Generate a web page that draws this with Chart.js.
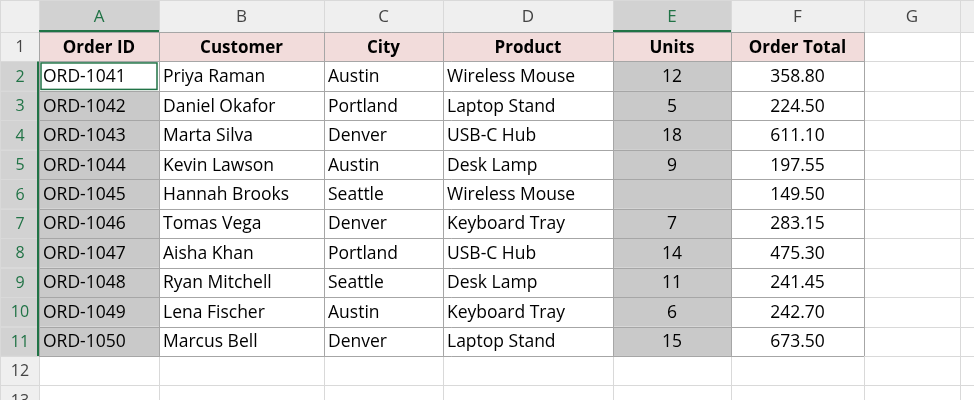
<!DOCTYPE html>
<html><head><meta charset="utf-8">
<script src="https://cdn.jsdelivr.net/npm/chart.js@4"></script>
<style>html,body{margin:0;padding:0;background:#fff}canvas{display:block}</style>
</head><body>
<canvas id="c" width="974" height="400"></canvas>
<script>
const columnLetters = ["A","B","C","D","E","F","G"];
const headers = ["Order ID","Customer","City","Product","Units","Order Total"];
const orderIds = ["ORD-1041","ORD-1042","ORD-1043","ORD-1044","ORD-1045","ORD-1046","ORD-1047","ORD-1048","ORD-1049","ORD-1050"];
const customers = ["Priya Raman","Daniel Okafor","Marta Silva","Kevin Lawson","Hannah Brooks","Tomas Vega","Aisha Khan","Ryan Mitchell","Lena Fischer","Marcus Bell"];
const cities = ["Austin","Portland","Denver","Austin","Seattle","Denver","Portland","Seattle","Austin","Denver"];
const products = ["Wireless Mouse","Laptop Stand","USB-C Hub","Desk Lamp","Wireless Mouse","Keyboard Tray","USB-C Hub","Desk Lamp","Keyboard Tray","Laptop Stand"];
const units = [12,5,18,9,null,7,14,11,6,15];
const orderTotals = [358.80,224.50,611.10,197.55,149.50,283.15,475.30,241.45,242.70,673.50];

// layout (not data)
const colEdges = [0,39,159,324,443,613,731,864,960,974];
const rowEdges = [0,32];
for (let i=1;i<=13;i++) rowEdges.push(32+i*29.45);

const FONT = '"Open Sans", "Liberation Sans", sans-serif';
const sheet = {
  id:'sheet',
  beforeDraw(chart){
    const ctx = chart.ctx, xs = chart.scales.x, ys = chart.scales.y;
    const X = v => xs.getPixelForValue(v), Y = v => ys.getPixelForValue(v);
    ctx.save();
    ctx.fillStyle='#fff'; ctx.fillRect(0,0,974,400);
    // header bars
    ctx.fillStyle='#efefef';
    ctx.fillRect(X(0),Y(0),X(974)-X(0),Y(32)-Y(0));
    ctx.fillRect(X(0),Y(0),X(39)-X(0),Y(400)-Y(0));
    // selected col headers A, E
    ctx.fillStyle='#d2d2d2';
    [1,5].forEach(c=>ctx.fillRect(X(colEdges[c]),Y(0),X(colEdges[c+1])-X(colEdges[c]),Y(32)));
    ctx.fillStyle='#d2d2d2';
    for(let r=2;r<=11;r++) ctx.fillRect(X(0),Y(rowEdges[r]),X(39),Y(rowEdges[r+1])-Y(rowEdges[r]));
    // row 1 pink
    ctx.fillStyle='#f2dcdb';
    ctx.fillRect(X(colEdges[1]),Y(rowEdges[1]),X(colEdges[7])-X(colEdges[1]),Y(rowEdges[2])-Y(rowEdges[1]));
    // selected fills
    ctx.fillStyle='#c9c9c9';
    for(let i=0;i<10;i++){
      const r=i+2;
      if(i>0) ctx.fillRect(X(colEdges[1]),Y(rowEdges[r]),X(colEdges[2])-X(colEdges[1]),Y(rowEdges[r+1])-Y(rowEdges[r]));
      ctx.fillRect(X(colEdges[5]),Y(rowEdges[r]),X(colEdges[6])-X(colEdges[5]),Y(rowEdges[r+1])-Y(rowEdges[r]));
    }
    // grid lines
    ctx.strokeStyle='#d9d9d9'; ctx.lineWidth=1;
    colEdges.forEach(x=>{ctx.beginPath();ctx.moveTo(Math.round(X(x))+.5,0);ctx.lineTo(Math.round(X(x))+.5,400);ctx.stroke();});
    rowEdges.forEach(y=>{ctx.beginPath();ctx.moveTo(0,Math.round(Y(y))+.5);ctx.lineTo(974,Math.round(Y(y))+.5);ctx.stroke();});
    // table borders
    ctx.strokeStyle='#a6a6a6';
    for(let c=1;c<=7;c++){ctx.beginPath();ctx.moveTo(Math.round(X(colEdges[c]))+.5,Y(rowEdges[1]));ctx.lineTo(Math.round(X(colEdges[c]))+.5,Y(rowEdges[12]));ctx.stroke();}
    for(let r=1;r<=12;r++){ctx.beginPath();ctx.moveTo(X(colEdges[1]),Math.round(Y(rowEdges[r]))+.5);ctx.lineTo(X(colEdges[7]),Math.round(Y(rowEdges[r]))+.5);ctx.stroke();}
    // green accents
    ctx.strokeStyle='#217346'; ctx.lineWidth=2;
    [1,5].forEach(c=>{ctx.beginPath();ctx.moveTo(X(colEdges[c]),Y(31));ctx.lineTo(X(colEdges[c+1]),Y(31));ctx.stroke();});
    ctx.beginPath();ctx.moveTo(X(38),Y(rowEdges[2]));ctx.lineTo(X(38),Y(rowEdges[12]));ctx.stroke();
    ctx.lineWidth=1.5;
    ctx.strokeRect(X(colEdges[1])+2,Y(rowEdges[2])+1.5,X(colEdges[2])-X(colEdges[1])-4,Y(rowEdges[3])-Y(rowEdges[2])-3);
    // headers text
    ctx.textBaseline='middle'; ctx.textAlign='center'; ctx.font='17px '+FONT;
    for(let c=0;c<7;c++){
      ctx.fillStyle=(c===0||c===4)?'#217346':'#444';
      ctx.fillText(columnLetters[c],(X(colEdges[c+1])+X(colEdges[c+2]))/2,Y(17));
    }
    ctx.font='16px '+FONT;
    for(let r=1;r<=13;r++){
      ctx.fillStyle=(r>=2&&r<=11)?'#217346':'#444';
      ctx.fillText(String(r),X(20),(Y(rowEdges[r])+Y(rowEdges[r+1]))/2+1);
    }
    // row 1 header
    ctx.fillStyle='#000'; ctx.font='bold 17px '+FONT;
    headers.forEach((h,c)=>ctx.fillText(h,(X(colEdges[c+1])+X(colEdges[c+2]))/2,(Y(rowEdges[1])+Y(rowEdges[2]))/2+1));
    ctx.font='17.5px '+FONT;
    for(let i=0;i<10;i++){
      const r=i+2, cy=(Y(rowEdges[r])+Y(rowEdges[r+1]))/2+1;
      ctx.textAlign='left';
      ctx.fillText(orderIds[i],X(colEdges[1])+4,cy);
      ctx.fillText(customers[i],X(colEdges[2])+4,cy);
      ctx.fillText(cities[i],X(colEdges[3])+4,cy);
      ctx.fillText(products[i],X(colEdges[4])+4,cy);
      ctx.textAlign='center';
      if(units[i]!==null) ctx.fillText(String(units[i]),(X(colEdges[5])+X(colEdges[6]))/2,cy);
      ctx.fillText(orderTotals[i].toFixed(2),(X(colEdges[6])+X(colEdges[7]))/2,cy);
    }
    ctx.restore();
  }
};
new Chart(document.getElementById('c'),{
  type:'scatter',
  data:{datasets:[{data:[]}]},
  options:{responsive:false,animation:false,devicePixelRatio:1,
    layout:{padding:0},
    plugins:{legend:{display:false},tooltip:{enabled:false}},
    scales:{x:{type:'linear',min:0,max:974,display:false},
            y:{type:'linear',min:0,max:400,reverse:true,display:false}}},
  plugins:[sheet]
});
</script>
</body></html>
